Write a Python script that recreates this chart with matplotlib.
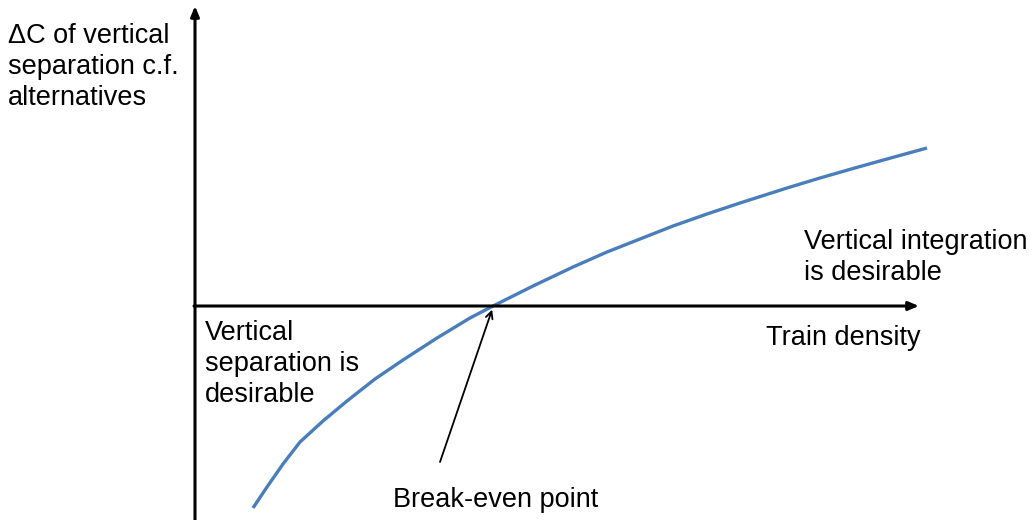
import matplotlib.pyplot as plt
import numpy as np

plt.rcParams['font.family'] = ['Liberation Sans', 'DejaVu Sans']

# curve (train density vs delta C), origin at axis crossing
density = [58, 72, 88, 105, 128, 152, 180, 208, 242, 275, 298, 338, 378, 412,
           445, 478, 512, 545, 592, 625, 658, 692, 732]
delta_c = [-202, -181, -158, -136, -115, -95, -73, -54, -32, -12, 0, 20, 39, 54,
           67, 80, 92, 103, 118, 128, 137.5, 147, 158]
break_even = (298, -1)

fig = plt.figure(figsize=(10.33, 5.20), dpi=100)
ax = fig.add_axes([0, 0, 1, 1])
ax.set_xlim(-195, 838)
ax.set_ylim(-214, 306)
ax.axis('off')

# axes as arrows
ax.annotate('', xy=(0, 300), xytext=(0, -214),
            arrowprops=dict(arrowstyle='-|>,head_length=0.6,head_width=0.25', lw=2.2, color='black',
                            shrinkA=0, shrinkB=0))
ax.annotate('', xy=(724, 0), xytext=(-1, 0),
            arrowprops=dict(arrowstyle='-|>,head_length=0.6,head_width=0.25', lw=2.2, color='black',
                            shrinkA=0, shrinkB=0))

ax.plot(density, delta_c, color='#4a7ebb', lw=2.4, solid_capstyle='butt', solid_joinstyle='round')

ax.annotate('', xy=break_even, xytext=(245, -156),
            arrowprops=dict(arrowstyle='->,head_length=0.5,head_width=0.25', lw=1.3, color='black',
                            shrinkA=0, shrinkB=2))

fs = 19.5
ls = 1.26
ax.text(-187, 283, 'ΔC of vertical\nseparation c.f.\nalternatives', fontsize=fs,
        va='top', ha='left', linespacing=ls)
ax.text(609, 77, 'Vertical integration\nis desirable', fontsize=fs, va='top', ha='left', linespacing=ls)
ax.text(571, -39, 'Train density', fontsize=fs, va='baseline', ha='left')
ax.text(10, -14, 'Vertical\nseparation is\ndesirable', fontsize=fs, va='top', ha='left', linespacing=ls)
ax.text(198, -201, 'Break-even point', fontsize=fs, va='baseline', ha='left')

fig.savefig('out.png', dpi=100)
